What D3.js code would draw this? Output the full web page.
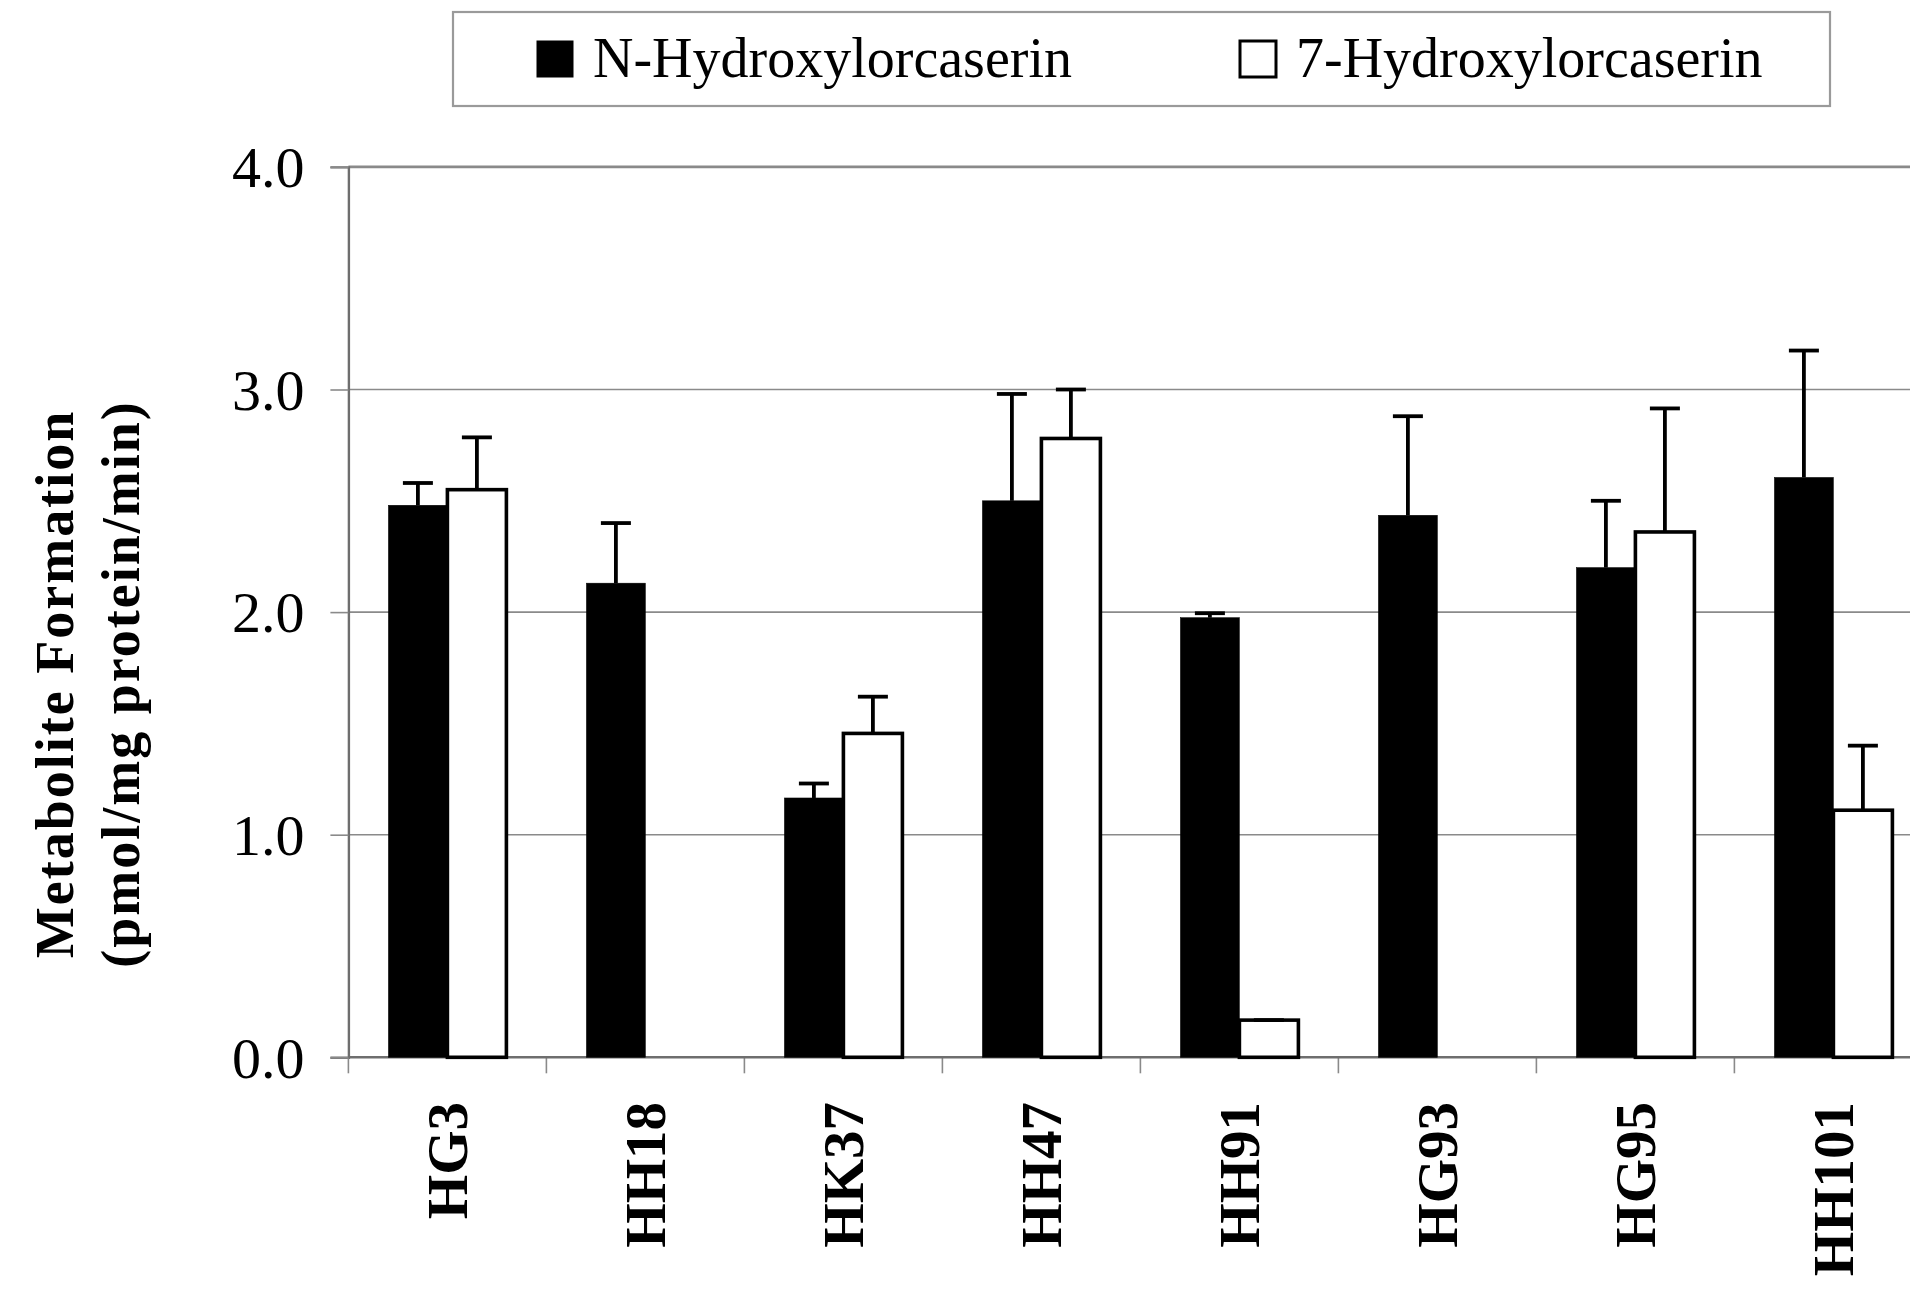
<!DOCTYPE html>
<html>
<head>
<meta charset="utf-8">
<script src="https://cdn.jsdelivr.net/npm/d3@7"></script>
<style>
  html, body { margin: 0; padding: 0; background: #fff; }
  svg { display: block; }
  text { font-family: "Liberation Serif", "Times New Roman", serif; fill: #000; }
</style>
</head>
<body>
<svg id="chart" width="1910" height="1294"></svg>
<script>
// Liver microsome samples
const categories = ["HG3", "HH18", "HK37", "HH47", "HH91", "HG93", "HG95", "HH101"];
const seriesNames = ["N-Hydroxylorcaserin", "7-Hydroxylorcaserin"];

// Mean metabolite formation (pmol/mg protein/min)
const nHydroxyMean = [2.48, 2.13, 1.165, 2.50, 1.975, 2.435, 2.20, 2.605];
const nHydroxySD   = [0.10, 0.27, 0.065, 0.48, 0.02,  0.445, 0.30, 0.57];
const sevenHydroxyMean = [2.55, 0, 1.455, 2.78, 0.167, 0, 2.36, 1.11];
const sevenHydroxySD   = [0.235, 0, 0.165, 0.22, 0, 0, 0.555, 0.29];

const yTicks = [0, 1, 2, 3, 4];

const series = [
  { name: seriesNames[0], mean: nHydroxyMean, sd: nHydroxySD, fill: "#000" },
  { name: seriesNames[1], mean: sevenHydroxyMean, sd: sevenHydroxySD, fill: "#fff" }
];

const svg = d3.select("#chart");

const plotLeft = 348.4, plotTop = 166.9, plotBottom = 1057.3;
const bandW = 198;

const x = d3.scaleBand().domain(categories)
  .range([plotLeft, plotLeft + bandW * categories.length])
  .paddingInner(0).paddingOuter(0);
const xInner = d3.scaleBand().domain(seriesNames).range([40, bandW - 40]).padding(0);
const y = d3.scaleLinear().domain([0, 4]).range([plotBottom, plotTop]);

// Horizontal gridlines
svg.append("g").selectAll("line").data(yTicks.filter(t => t > 0 && t < 4)).join("line")
  .attr("x1", plotLeft).attr("x2", plotLeft + bandW * categories.length)
  .attr("y1", d => y(d)).attr("y2", d => y(d))
  .attr("stroke", "#8a8a8a").attr("stroke-width", 1.6);

// Plot frame top edge
svg.append("line")
  .attr("x1", plotLeft).attr("x2", plotLeft + bandW * categories.length)
  .attr("y1", y(4)).attr("y2", y(4))
  .attr("stroke", "#8a8a8a").attr("stroke-width", 2.6);

// Y axis
const yAxis = d3.axisLeft(y).tickValues(yTicks).tickFormat(d3.format(".1f")).tickSize(18).tickPadding(26);
const gy = svg.append("g").attr("transform", `translate(${plotLeft},0)`).call(yAxis);
gy.select(".domain").attr("stroke", "#6e6e6e").attr("stroke-width", 2.4);
gy.selectAll(".tick line").attr("stroke", "#8a8a8a").attr("stroke-width", 1.6);
gy.selectAll(".tick text")
  .attr("font-family", "Liberation Serif, serif")
  .attr("font-size", 58).attr("fill", "#000").attr("dy", "0.34em");

// X axis (ticks at category boundaries)
const boundaries = d3.range(categories.length + 1).map(i => plotLeft + i * bandW);
svg.append("g").selectAll("line").data(boundaries).join("line")
  .attr("x1", d => d).attr("x2", d => d)
  .attr("y1", plotBottom).attr("y2", plotBottom + 16)
  .attr("stroke", "#8a8a8a").attr("stroke-width", 1.6);
svg.append("line")
  .attr("x1", plotLeft).attr("x2", plotLeft + bandW * categories.length)
  .attr("y1", plotBottom).attr("y2", plotBottom)
  .attr("stroke", "#6e6e6e").attr("stroke-width", 2.4);

// Category labels, rotated
svg.append("g").selectAll("text").data(categories).join("text")
  .attr("transform", d => `translate(${x(d) + bandW / 2},1102) rotate(-90)`)
  .attr("text-anchor", "end").attr("dy", "0.35em")
  .attr("font-size", 57).attr("font-weight", "bold")
  .text(d => d);

// Bars
series.forEach(s => {
  const g = svg.append("g");
  const rows = categories.map((c, i) => ({ c, v: s.mean[i], e: s.sd[i] }));
  g.selectAll("rect").data(rows).join("rect")
    .attr("x", d => x(d.c) + xInner(s.name))
    .attr("width", xInner.bandwidth())
    .attr("y", d => y(d.v))
    .attr("height", d => y(0) - y(d.v))
    .attr("fill", s.fill)
    .attr("stroke", "#000")
    .attr("stroke-width", s.fill === "#fff" ? 3.6 : 0.5);

  // Upper error bars
  const eb = g.selectAll("g.err").data(rows.filter(d => d.v > 0)).join("g").attr("class", "err");
  eb.append("line")
    .attr("x1", d => x(d.c) + xInner(s.name) + xInner.bandwidth() / 2)
    .attr("x2", d => x(d.c) + xInner(s.name) + xInner.bandwidth() / 2)
    .attr("y1", d => y(d.v)).attr("y2", d => y(d.v + d.e))
    .attr("stroke", "#000").attr("stroke-width", 3.8);
  eb.append("line")
    .attr("x1", d => x(d.c) + xInner(s.name) + xInner.bandwidth() / 2 - 15)
    .attr("x2", d => x(d.c) + xInner(s.name) + xInner.bandwidth() / 2 + 15)
    .attr("y1", d => y(d.v + d.e)).attr("y2", d => y(d.v + d.e))
    .attr("stroke", "#000").attr("stroke-width", 3.8);
});

// Y axis title (two lines)
const yTitle = svg.append("g").attr("font-weight", "bold").attr("font-size", 54).attr("letter-spacing", 2);
yTitle.append("text")
  .attr("transform", "translate(73,684) rotate(-90)")
  .attr("text-anchor", "middle")
  .text("Metabolite Formation");
yTitle.append("text")
  .attr("transform", "translate(139,684) rotate(-90)")
  .attr("text-anchor", "middle")
  .text("(pmol/mg protein/min)");

// Legend
const legend = svg.append("g");
legend.append("rect")
  .attr("x", 453).attr("y", 12).attr("width", 1377).attr("height", 94)
  .attr("fill", "#fff").attr("stroke", "#9a9a9a").attr("stroke-width", 2.2);
const legendPos = [537, 1240];
series.forEach((s, i) => {
  legend.append("rect")
    .attr("x", legendPos[i]).attr("y", 41).attr("width", 36).attr("height", 36)
    .attr("fill", s.fill).attr("stroke", "#000").attr("stroke-width", s.fill === "#fff" ? 3 : 1);
  legend.append("text")
    .attr("x", legendPos[i] + 56).attr("y", 77)
    .attr("font-size", 56)
    .text(s.name);
});
</script>
</body>
</html>
